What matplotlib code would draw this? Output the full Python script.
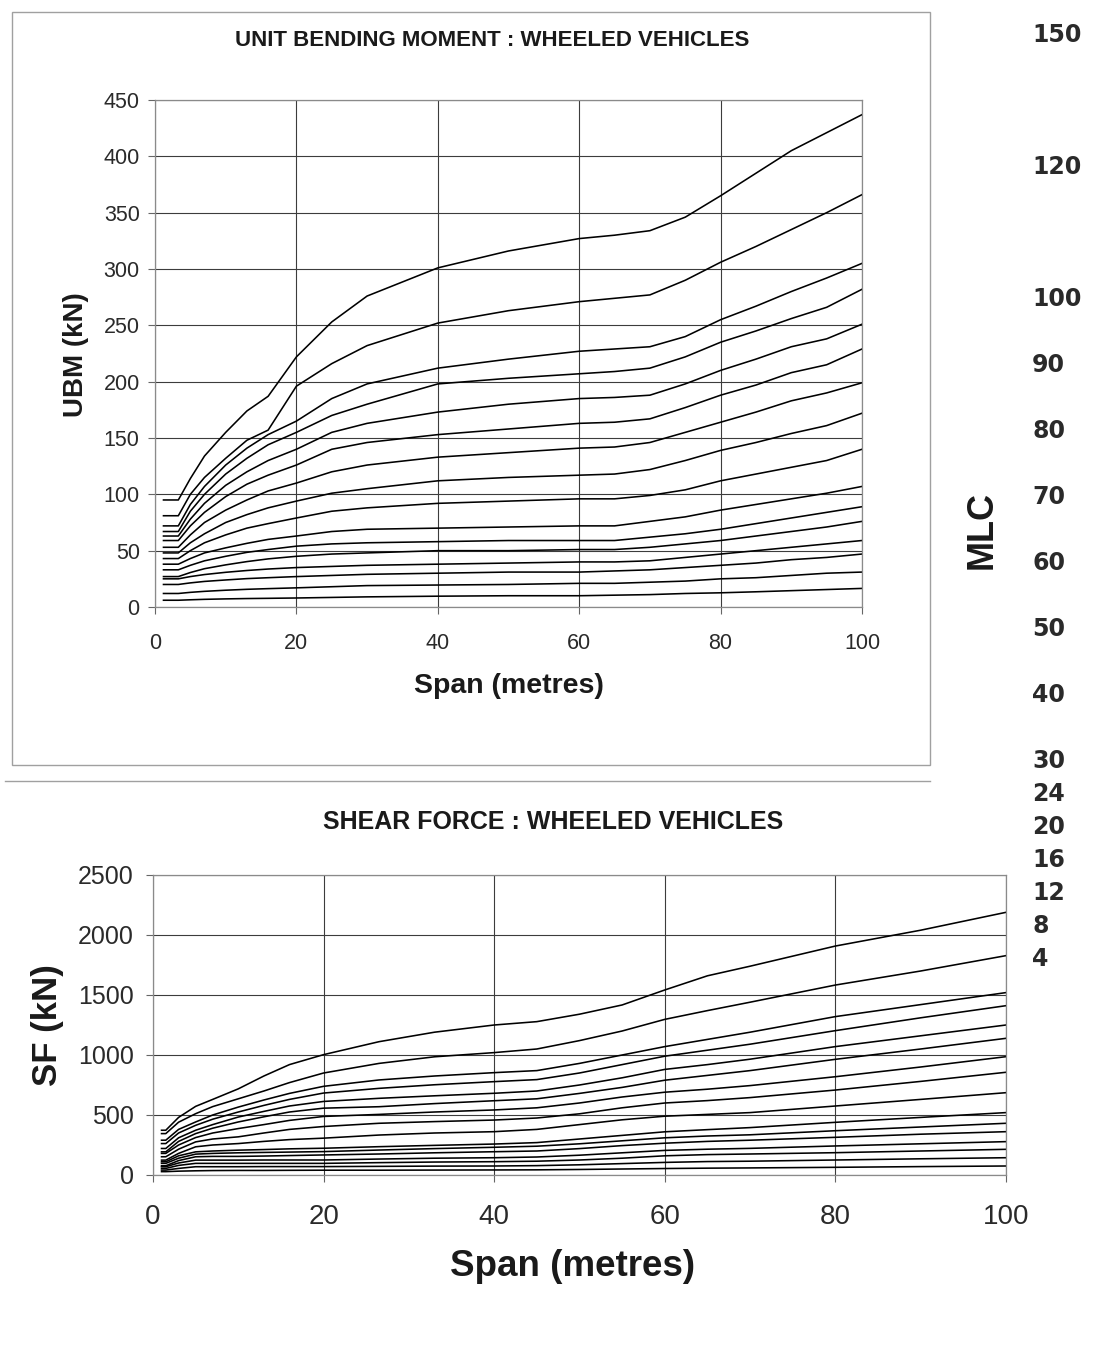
import matplotlib.pyplot as plt
from matplotlib.lines import Line2D
from matplotlib.patches import Rectangle

plt.rcParams["font.family"] = ["Liberation Sans", "DejaVu Sans"]

W, H = 1093, 1348

MLC_CLASSES = [150, 120, 100, 90, 80, 70, 60, 50, 40, 30, 24, 20, 16, 12, 8, 4]

# ---- unit bending moment (kN) against span (m) ----
UBM_SPAN = [1.2, 3.3, 5, 7, 10, 13, 16, 20, 25, 30, 40, 50, 60, 65, 70, 75, 80, 85, 90, 95, 100]
UBM_150 = [95, 95, 114, 134, 155, 174, 187, 222, 253, 276, 301, 316, 327, 330, 334, 346, 365, 385, 405, 421, 437]
UBM_120 = [81, 81, 100, 115, 132, 148, 157, 196, 216, 232, 252, 263, 271, 274, 277, 290, 306, 320, 335, 350, 366]
UBM_100 = [72, 72, 91, 107, 126, 141, 153, 165, 185, 198, 212, 220, 227, 229, 231, 240, 255, 267, 280, 292, 305]
UBM_90 = [67, 67, 85, 100, 118, 132, 144, 155, 170, 180, 198, 203, 207, 209, 212, 222, 235, 245, 256, 266, 282]
UBM_80 = [63, 63, 78, 92, 108, 120, 130, 140, 155, 163, 173, 180, 185, 186, 188, 198, 210, 220, 231, 238, 251]
UBM_70 = [59, 59, 72, 84, 98, 109, 117, 126, 140, 146, 153, 158, 163, 164, 167, 177, 188, 197, 208, 215, 229]
UBM_60 = [53, 53, 64, 75, 86, 95, 103, 110, 120, 126, 133, 137, 141, 142, 146, 155, 164, 173, 183, 190, 199]
UBM_50 = [48, 48, 57, 65, 75, 82, 88, 94, 101, 105, 112, 115, 117, 118, 122, 130, 139, 146, 154, 161, 172]
UBM_40 = [43, 43, 50, 57, 64, 70, 74, 79, 85, 88, 92, 94, 96, 96, 99, 104, 112, 118, 124, 130, 140]
UBM_30 = [38, 38, 43, 48, 52.5, 56.5, 60, 63, 67, 69, 70, 71, 72, 72, 76, 80, 86, 91, 96, 101, 107]
UBM_24 = [33, 33, 37, 41, 45, 48.5, 51, 54, 56, 57, 58, 59, 59, 59, 62, 65, 69, 74, 79, 84, 89]
UBM_20 = [27, 27, 30.6, 34, 37.4, 40.3, 42.7, 45, 47, 48, 50, 50, 51, 51, 53, 56, 59, 63, 67, 71, 76]
UBM_16 = [25, 25, 27, 28.8, 30.8, 32.4, 33.7, 35, 36, 37, 38, 39, 40, 40, 41, 44, 47, 50, 53, 56, 59]
UBM_12 = [20, 20, 21.4, 22.7, 24, 25.2, 26, 27, 28, 29, 30, 31, 31, 32, 33, 35, 37, 39, 42, 44, 47]
UBM_8 = [12, 12, 13, 13.9, 14.9, 15.7, 16.3, 17, 18, 19, 19.5, 20, 21, 21, 22, 23, 25, 26, 28, 30, 31]
UBM_4 = [6, 6, 6.4, 6.8, 7.2, 7.5, 7.7, 8, 8.5, 9, 9.6, 10, 10, 10.5, 11, 12, 12.6, 13.5, 14.5, 15.5, 16.5]

# ---- shear force (kN) against span (m) ----
SF_SPAN = [1.0, 1.5, 3, 5, 7, 10, 13, 16, 20, 26.5, 33, 40, 45, 50, 55, 60, 65, 70, 80, 90, 100]
SF_150 = [373, 373, 480, 572, 630, 718, 825, 920, 1003, 1111, 1190, 1250, 1278, 1340, 1417, 1542, 1660, 1740, 1908, 2040, 2189]
SF_120 = [345, 345, 440, 511, 570, 635, 700, 770, 850, 930, 985, 1020, 1050, 1120, 1200, 1297, 1370, 1440, 1583, 1700, 1828]
SF_100 = [290, 290, 380, 442, 500, 566, 625, 680, 739, 792, 825, 853, 870, 930, 1000, 1070, 1130, 1190, 1320, 1420, 1520]
SF_90 = [262, 262, 350, 414, 465, 525, 580, 630, 683, 722, 752, 778, 795, 850, 920, 990, 1040, 1090, 1203, 1310, 1411]
SF_80 = [221, 221, 310, 373, 420, 483, 530, 575, 613, 639, 660, 681, 700, 750, 810, 880, 920, 965, 1070, 1160, 1250]
SF_70 = [193, 193, 280, 345, 390, 442, 485, 525, 557, 569, 595, 619, 635, 680, 730, 790, 830, 870, 964, 1050, 1139]
SF_60 = [180, 180, 250, 312, 350, 387, 420, 455, 488, 505, 525, 542, 560, 600, 650, 690, 715, 745, 819, 900, 986]
SF_50 = [152, 152, 215, 276, 300, 318, 350, 380, 404, 431, 445, 458, 475, 510, 560, 600, 620, 645, 708, 780, 856]
SF_40 = [124, 124, 180, 235, 250, 262, 280, 295, 307, 333, 350, 361, 380, 420, 460, 490, 505, 520, 575, 630, 686]
SF_30 = [110, 110, 160, 193, 200, 207, 212, 218, 223, 236, 247, 258, 270, 300, 330, 360, 378, 395, 439, 480, 520]
SF_24 = [97, 97, 140, 174, 180, 185, 188, 191, 195, 208, 220, 231, 240, 260, 285, 310, 325, 335, 369, 400, 431]
SF_20 = [77, 77, 120, 152, 155, 155, 158, 162, 167, 175, 185, 194, 200, 220, 245, 265, 280, 290, 314, 340, 361]
SF_16 = [69, 69, 100, 124, 124, 124, 125, 125, 125, 133, 140, 144, 150, 165, 185, 205, 215, 222, 242, 260, 278]
SF_12 = [55, 55, 80, 97, 97, 97, 97, 97, 97, 103, 108, 111, 115, 125, 140, 160, 170, 175, 186, 200, 214]
SF_8 = [41, 41, 55, 69, 69, 69, 70, 70, 70, 72, 74, 75, 78, 85, 95, 105, 112, 115, 125, 135, 144]
SF_4 = [28, 28, 32, 35, 37, 38, 38, 39, 40, 40, 41, 42, 43, 46, 50, 54, 57, 59, 64, 70, 75]

UBM_CURVES = [UBM_150, UBM_120, UBM_100, UBM_90, UBM_80, UBM_70, UBM_60, UBM_50,
              UBM_40, UBM_30, UBM_24, UBM_20, UBM_16, UBM_12, UBM_8, UBM_4]
SF_CURVES = [SF_150, SF_120, SF_100, SF_90, SF_80, SF_70, SF_60, SF_50,
             SF_40, SF_30, SF_24, SF_20, SF_16, SF_12, SF_8, SF_4]


def fx(px):
    return px / W


def fy(py):
    return 1 - py / H


def style_axes(ax, ymax, ystep, tick_size):
    ax.set_xlim(0, 100)
    ax.set_ylim(0, ymax)
    ax.set_xticks(range(0, 101, 20))
    ax.set_yticks(range(0, ymax + 1, ystep))
    ax.grid(True, color="#3c3c3c", lw=0.8)
    ax.set_axisbelow(True)
    ax.tick_params(direction="out", length=5, width=0.8, color="#666666",
                   labelsize=tick_size, labelcolor="#2a2a2a", pad=6)
    for spine in ax.spines.values():
        spine.set_color("#8a8a8a")
        spine.set_linewidth(0.9)


def draw_family(ax, span, curves):
    for values in curves:
        ax.plot(span, values, color="black", lw=1.15, solid_joinstyle="round")


fig = plt.figure(figsize=(W / 100, H / 100), dpi=100)

# bending moment chart
ax1 = fig.add_axes([fx(155), fy(607), fx(862) - fx(155), fy(100) - fy(607)])
style_axes(ax1, 450, 50, 15.5)
ax1.tick_params(axis="x", pad=14)
draw_family(ax1, UBM_SPAN, UBM_CURVES)

fig.add_artist(Rectangle((fx(12), fy(765)), fx(930) - fx(12), fy(12) - fy(765),
                         transform=fig.transFigure, fill=False, ec="#a0a0a0", lw=1.0))
fig.add_artist(Line2D([fx(5), fx(930)], [fy(781), fy(781)], transform=fig.transFigure,
                      color="#a0a0a0", lw=1.0))

fig.text(fx(492), fy(41), "UNIT BENDING MOMENT : WHEELED VEHICLES", ha="center", va="center",
         fontsize=16, fontweight="bold", color="#1a1a1a")
fig.text(fx(76), fy(355), "UBM (kN)", ha="center", va="center", rotation=90,
         fontsize=20, fontweight="bold", color="#1a1a1a")
fig.text(fx(509), fy(686), "Span (metres)", ha="center", va="center",
         fontsize=20.5, fontweight="bold", color="#1a1a1a")

# shear force chart
ax2 = fig.add_axes([fx(153), fy(1175), fx(1006) - fx(153), fy(875) - fy(1175)])
style_axes(ax2, 2500, 500, 18)
ax2.tick_params(axis="y", pad=9)
ax2.tick_params(axis="x", labelsize=20, pad=16)
draw_family(ax2, SF_SPAN, SF_CURVES)

fig.text(fx(553), fy(822), "SHEAR FORCE : WHEELED VEHICLES", ha="center", va="center",
         fontsize=18, fontweight="bold", color="#1a1a1a")
fig.text(fx(47), fy(1025), "SF (kN)", ha="center", va="center", rotation=90,
         fontsize=25, fontweight="bold", color="#1a1a1a")
fig.text(fx(573), fy(1267), "Span (metres)", ha="center", va="center",
         fontsize=26.5, fontweight="bold", color="#1a1a1a")

# MLC class key down the right-hand side
label_slots = [0, 4, 8, 10, 12, 14, 16, 18, 20, 22, 23, 24, 25, 26, 27, 28]
for mlc, slot in zip(MLC_CLASSES, label_slots):
    fig.text(fx(1032), fy(35 + 33 * slot), str(mlc), ha="left", va="center",
             fontsize=17, fontweight="bold", color="#2a2a2a", family="DejaVu Sans")
fig.text(fx(982), fy(530), "MLC", ha="center", va="center", rotation=90,
         fontsize=26, fontweight="bold", color="#1a1a1a")

fig.savefig("out.png", dpi=100, facecolor="white")
